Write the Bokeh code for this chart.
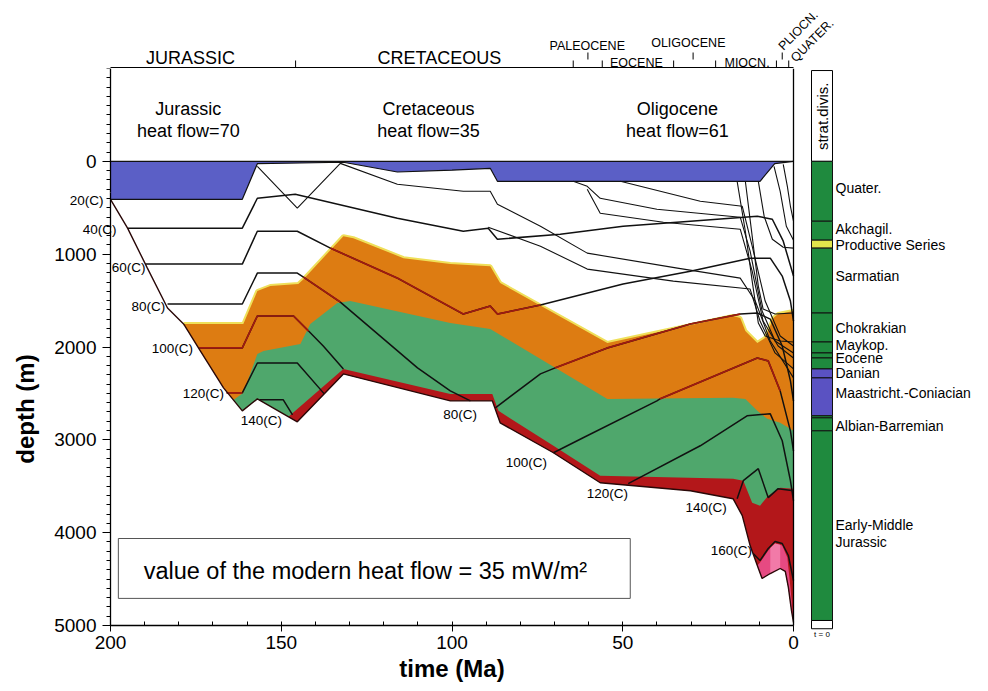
import math
from bokeh.plotting import figure
from bokeh.layouts import column, row
from bokeh.models import Range1d, FixedTicker, LinearAxis
from bokeh.core.properties import value
from bokeh.embed import file_html
from bokeh.resources import INLINE

FONT = "Liberation Sans"

# ---------------- data (time in Ma, depth in m) ----------------
water_t = [200, 161.4, 157.0, 131.8, 116.0, 100.0, 88.8, 86.7, 9.8, 5.5, 0]
water_d = [409, 409, 25, 10, 115, 95, 75, 215, 215, 25, 0]

base_t = [200.0, 195.0, 189.2, 183.3, 178.6, 173.7, 166.9, 161.4, 157.0, 145.3, 131.8, 100.5, 88.2, 85.9,
          70.3, 56.6, 30.2, 17.7, 15.0, 12.7, 10.6, 9.2, 6.8, 3.9, 2.4, 1.5, 0.6, 0.0]
base_d = [409, 720, 1150, 1580, 1752, 2043, 2440, 2688, 2559, 2806, 2290, 2580, 2580, 2817,
          3139, 3462, 3548, 3634, 3816, 4139, 4354, 4494, 4440, 4386, 4418, 4590, 4838, 4967]

orange_top_t = [178.6, 161.1, 157.0, 153.2, 145.0, 143.5, 131.8, 128.9, 114.2, 100.5, 88.8, 85.9, 54.5,
                17.7, 15.6, 14.1, 10.6, 8.3, 5.9, 4.5, 0.0]
orange_top_d = [1752, 1752, 1398, 1344, 1322, 1269, 806, 828, 1043, 1107, 1129, 1311, 1957,
                1666, 1688, 1828, 1957, 1903, 1688, 1645, 1613]

green_top_t = [164.0, 161.1, 157.0, 155.2, 144.4, 141.5, 133.6, 129.8, 100.5, 88.8, 54.5, 17.7, 14.1,
               10.6, 7.7, 3.9, 0.0]
green_top_d = [2570, 2494, 2075, 2043, 1967, 1752, 1527, 1505, 1742, 1806, 2559, 2548, 2559,
               2688, 2774, 2817, 2903]

red_top_t = [147.9, 131.8, 100.5, 88.2, 86.4, 70.3, 56.6, 17.7, 14.7, 12.1, 9.8, 7.4, 3.9, 0.0]
red_top_d = [2750, 2236, 2505, 2505, 2688, 3064, 3386, 3419, 3440, 3677, 3709, 3601, 3515, 3526]

pink_top_t = [10.6, 9.8, 7.4, 5.4, 3.3, 1.8, 0.9, 0.0]
pink_top_d = [4354, 4322, 4193, 4117, 4139, 4268, 4590, 4967]
light_pink_t = [6.8, 5.4, 3.9, 3.9, 6.8]
light_pink_d = [4165, 4117, 4130, 4386, 4440]

# isotherms
iso40_t = [195.0, 161.4, 157.0, 145.9, 116.0, 96.7, 89.4, 86.7, 68.3, 49.9, 30.2, 10.6, 6.2, 3.0, 0.0]
iso40_d = [720, 720, 398, 355, 613, 753, 720, 839, 785, 699, 645, 591, 624, 860, 1236]
iso60_t = [189.8, 161.4, 157.0, 145.3, 135.6, 116.0, 96.7, 88.8, 86.7, 74.1, 49.9, 30.2, 12.7, 6.8, 3.3, 0.9, 0.0]
iso60_d = [1107, 1107, 753, 753, 935, 1258, 1645, 1559, 1645, 1548, 1322, 1183, 1043, 1043, 1236, 1505, 1720]
iso80_t = [183.3, 161.4, 157.0, 145.3, 143.5, 132.7, 110.1, 100.5, 94.6]
iso80_d = [1537, 1537, 1204, 1204, 1247, 1516, 2225, 2473, 2580]
iso80b_t = [87.3, 74.1, 69.8, 54.5, 30.2, 15.6, 10.6, 6.8, 3.3, 0.9, 0.0]
iso80b_d = [2655, 2290, 2225, 2010, 1752, 1645, 1634, 1699, 1989, 2365, 2580]
iso100_t = [174.0, 161.4, 157.0, 146.4, 142.0, 137.7, 131.8]
iso100_d = [2010, 2010, 1666, 1666, 1828, 1989, 2236]
iso100b_t = [70.3, 61.6, 40.0, 39.1, 10.6, 7.4, 3.9, 0.9, 0.0]
iso100b_d = [3139, 2978, 2580, 2559, 2118, 2150, 2473, 2903, 3118]
iso120_t = [166.0, 161.4, 157.0, 145.3, 137.4]
iso120_d = [2494, 2494, 2172, 2172, 2505]
iso120b_t = [48.4, 27.3, 13.6, 6.8, 3.3, 0.9, 0.0]
iso120b_d = [3472, 3064, 2741, 2720, 3010, 3440, 3655]
iso140_t = [156.4, 149.4, 146.7]
iso140_d = [2569, 2569, 2731]
iso140b_t = [16.5, 14.7, 10.3, 7.4, 4.5, 0.0]
iso140b_d = [3634, 3440, 3311, 3623, 3526, 3548]
iso160_t = [11.8, 9.8, 7.4, 5.4, 3.3, 1.5, 0.0]
iso160_d = [4225, 4300, 4171, 4096, 4117, 4246, 4515]

# burial curves of horizons
hz_a_t = [157.0, 145.3, 132.7, 116.0, 96.7, 88.8, 86.7, 74.1, 60.4, 34.0, 15.6, 11.2, 6.8, 0.0]
hz_a_d = [54, 505, 22, 247, 323, 323, 462, 699, 989, 1150, 1258, 1505, 1935, 2333]
hz_b_t = [89.4, 74.1, 60.4, 35.2, 12.7, 9.8, 5.4, 0.0]
hz_b_d = [710, 914, 1161, 1290, 1376, 1720, 2064, 2236]
hz_p1_t = [64.5, 60.4, 56.6, 40.0, 15.6, 12.7, 9.2, 5.4, 0.0]
hz_p1_d = [215, 269, 398, 516, 602, 968, 1613, 1935, 2064]
hz_p2_t = [60.4, 56.6, 38.1, 15.6, 12.1, 8.9, 4.5, 0.0]
hz_p2_d = [301, 559, 656, 731, 1183, 1720, 1989, 2118]
hz_p3_t = [50.7, 27.3, 15.0, 12.1, 8.3, 3.9, 0.0]
hz_p3_d = [215, 430, 484, 914, 1505, 1881, 1989]
hz_m1_t = [16.5, 14.1, 12.1, 10.3, 8.3, 3.9, 0.0]
hz_m1_d = [215, 753, 1290, 1742, 1881, 1935, 1946]
hz_m2_t = [14.1, 12.1, 10.3, 8.9, 5.4, 0.0]
hz_m2_d = [215, 806, 1344, 1591, 1645, 1634]
hz_m3_t = [10.3, 8.6, 6.2, 3.0, 0.0]
hz_m3_d = [215, 591, 839, 925, 935]
hz_pl_t = [5.7, 3.9, 2.1, 0.0]
hz_pl_d = [54, 323, 699, 849]
hz_ak_t = [3.0, 1.8, 0.9, 0.0]
hz_ak_d = [32, 269, 484, 645]

iso_lab_text = ["20(C)", "40(C)", "60(C)", "80(C)", "100(C)", "120(C)", "140(C)",
                "80(C)", "100(C)", "120(C)", "140(C)", "160(C)"]
iso_lab_t = [207.0, 203.2, 194.7, 188.9, 181.9, 172.8, 155.8, 97.6, 78.2, 54.5, 25.6, 18.2]
iso_lab_d = [419, 731, 1140, 1559, 2021, 2505, 2795, 2730, 3247, 3580, 3730, 4193]

hf_period = ["Jurassic", "Cretaceous", "Oligocene"]
hf_value = [70, 35, 61]
hf_t = [177.2, 106.9, 34.0]
modern_heat_flow = 35

# geological time scale (header)
era_names = ["JURASSIC", "CRETACEOUS"]
era_mid_t = [176.6, 103.7]
epoch_names = ["PALEOCENE", "EOCENE", "OLIGOCENE", "MIOCN."]
epoch_mid_t = [60.4, 46.0, 30.8, 13.6]
epoch_row = [45, 62, 42, 62]
young_names = ["PLIOCN.", "QUATER."]
young_t = [-1.4, -5.5]
young_row = [30, 40]
bound_t = [145.8, 64.5, 56.0, 35.1, 22.8, 5.0, 1.4]
mid_tick_t = [60.2, 29.4, 3.3]

# stratigraphic column (present-day depths)
strat_top = [0, 645, 849, 935, 1634, 1946, 2064, 2118, 2236, 2333, 2741, 2763, 2903]
strat_bot = [645, 849, 935, 1634, 1946, 2064, 2118, 2236, 2333, 2741, 2763, 2903, 4946]
strat_lith = ["g", "g", "y", "g", "g", "g", "g", "g", "b", "b", "g", "g", "g"]
strat_names = ["Quater.", "Akchagil.", "Productive Series", "Sarmatian", "Chokrakian", "Maykop.",
               "Eocene", "Danian", "Maastricht.-Coniacian", "Albian-Barremian", "Early-Middle", "Jurassic"]
strat_label_d = [291, 732, 905, 1239, 1799, 1982, 2122, 2284, 2499, 2855, 3921, 4104]

# ---------------- styling / geometry ----------------
W, H = 988, 691
HEAD_H = 68
FRAME_L, FRAME_R = 110, 793
FRAME_B = 625
MAIN_W = 800
T0, T1 = 200, 0
D_TOP, D_BOT = -1000, 5000
D_SPLIT = 340          # where the labelled part of the depth axis begins (centres its title)
px_per_ma = (FRAME_R - FRAME_L) / (T0 - T1)
m_per_px = (D_BOT - D_TOP) / (FRAME_B - HEAD_H)
T_LEFT = T0 + FRAME_L / px_per_ma               # time at the left edge of the canvas
T_RIGHT = T1 - (MAIN_W - FRAME_R) / px_per_ma   # time at the right edge of the main canvas
D_CANVAS_BOT = D_TOP + (H - HEAD_H) * m_per_px  # depth at the bottom edge of the canvas

C_WATER = "#5b5fc6"
C_ORANGE = "#dd7c12"
C_GREEN = "#4fa76c"
C_RED = "#b3171a"
C_PINK = "#e64a82"
C_LPINK = "#f27aa8"
C_YEL = "#efe05a"
C_ISO_RED = "#a01a10"
LITH = {"g": "#1f8a3e", "y": "#e2e64c", "b": "#5a52c2"}

# ---------------- header (time scale) ----------------
hdr = figure(width=W, height=HEAD_H,
             x_range=Range1d(T_LEFT, T1 - (W - FRAME_R) / px_per_ma),
             y_range=Range1d(HEAD_H, 0), x_axis_location=None, y_axis_location=None,
             toolbar_location=None, output_backend="svg", min_border=0,
             outline_line_color=None)
hdr.grid.visible = False
hdr.line([T0, T1], [HEAD_H - 0.7, HEAD_H - 0.7], line_color="black", line_width=1.4)
hdr.segment(x0=bound_t, y0=[HEAD_H] * len(bound_t), x1=bound_t, y1=[HEAD_H - 8] * len(bound_t),
            line_color="black", line_width=1)
hdr.segment(x0=mid_tick_t, y0=[59] * len(mid_tick_t), x1=mid_tick_t, y1=[52] * len(mid_tick_t),
            line_color="black", line_width=1)
hdr.text(x=era_mid_t, y=[57] * 2, text=era_names, text_font=value(FONT), text_font_size="18px",
         text_align="center", text_baseline="middle", text_color="black")
hdr.text(x=epoch_mid_t, y=epoch_row, text=epoch_names, text_font=value(FONT), text_font_size="12.5px",
         text_align="center", text_baseline="middle", text_color="black")
hdr.text(x=young_t, y=young_row, text=young_names, text_font=value(FONT), text_font_size="12.5px",
         text_align="center", text_baseline="middle", text_color="black", angle=math.pi / 4)

# ---------------- main burial history ----------------
p = figure(width=MAIN_W, height=H - HEAD_H, x_range=Range1d(T_LEFT, T_RIGHT),
           y_range=Range1d(D_CANVAS_BOT, D_TOP),
           toolbar_location=None, output_backend="svg", min_border=0,
           x_axis_label="time (Ma)", y_axis_label="depth (m)")
p.grid.visible = False
p.outline_line_color = None

xa = p.xaxis[0]
ya = p.yaxis[0]
xa.ticker = FixedTicker(ticks=[200, 150, 100, 50, 0], minor_ticks=list(range(0, 201, 10)))
xa.fixed_location = D_BOT
xa.bounds = (T1, T0)
ya.ticker = FixedTicker(ticks=[1000, 2000, 3000, 4000, 5000],
                        minor_ticks=list(range(400, 5001, 100)))
ya.fixed_location = T0
ya.bounds = (D_SPLIT, D_BOT)
ya_top = LinearAxis(fixed_location=T0, bounds=(D_TOP, D_SPLIT),
                    ticker=FixedTicker(ticks=[0], minor_ticks=list(range(D_TOP, D_SPLIT, 100))))
p.add_layout(ya_top, "left")
for ax in (xa, ya, ya_top):
    ax.axis_line_color = "black"
    ax.axis_line_width = 1.3
    ax.major_tick_line_color = "black"
    ax.minor_tick_line_color = "black"
    ax.major_label_text_font = FONT
    ax.major_label_text_font_size = "19px"
    ax.major_label_text_color = "black"
    ax.axis_label_text_font = FONT
    ax.axis_label_text_font_size = "24px"
    ax.axis_label_text_font_style = "bold"
    ax.axis_label_text_color = "black"
xa.major_tick_out = 6
xa.major_tick_in = 0
xa.minor_tick_in = 4
xa.minor_tick_out = 0
xa.major_label_standoff = 4
xa.axis_label_standoff = 3
for ax in (ya, ya_top):
    ax.major_tick_out = 8
    ax.major_tick_in = 0
    ax.minor_tick_out = 4
    ax.minor_tick_in = 0
    ax.major_label_standoff = 6
ya.axis_label_standoff = 12

# right border of the frame (t = 0)
right_edge = LinearAxis(fixed_location=T1, bounds=(D_TOP, D_BOT), ticker=FixedTicker(ticks=[]),
                        axis_line_color="black", axis_line_width=1.3, major_tick_line_color=None,
                        minor_tick_line_color=None, major_label_text_font_size="0px")
p.add_layout(right_edge, "right")


def zone(top_t, top_d):
    t0 = top_t[0]
    bt = [t for t in base_t if t < t0]
    bd = [d for t, d in zip(base_t, base_d) if t < t0]
    return top_t + bt[::-1], top_d + bd[::-1]


# water column
p.varea(x=water_t, y1=[0] * len(water_t), y2=water_d, fill_color=C_WATER)

# maturity zones
p.line(orange_top_t, orange_top_d, line_color=C_YEL, line_width=4)
for top_t, top_d, col in ((orange_top_t, orange_top_d, C_ORANGE), (green_top_t, green_top_d, C_GREEN),
                          (red_top_t, red_top_d, C_RED), (pink_top_t, pink_top_d, C_PINK)):
    xs, ys = zone(top_t, top_d)
    p.patch(xs, ys, fill_color=col, line_color=None)
p.patch(light_pink_t, light_pink_d, fill_color=C_LPINK, line_color=None)

# horizons
for ht, hd in ((hz_a_t, hz_a_d), (hz_b_t, hz_b_d), (hz_p1_t, hz_p1_d), (hz_p2_t, hz_p2_d),
               (hz_p3_t, hz_p3_d), (hz_m1_t, hz_m1_d), (hz_m2_t, hz_m2_d), (hz_m3_t, hz_m3_d),
               (hz_pl_t, hz_pl_d), (hz_ak_t, hz_ak_d)):
    p.line(ht, hd, line_color="#111111", line_width=1.1)

# isotherms (segments inside the orange zone are drawn dark red)
for it, idd, red in ((iso40_t, iso40_d, None), (iso60_t, iso60_d, (4, 9)), (iso80_t, iso80_d, (4, 5)),
                     (iso80b_t, iso80b_d, (2, 5)), (iso100_t, iso100_d, (0, 4)),
                     (iso100b_t, iso100b_d, (3, 6)), (iso120_t, iso120_d, (0, 1)),
                     (iso120b_t, iso120b_d, None), (iso140_t, iso140_d, None),
                     (iso140b_t, iso140b_d, None), (iso160_t, iso160_d, None)):
    p.line(it, idd, line_color="#111111", line_width=1.5)
    if red:
        i, j = red
        p.line(it[i:j + 1], idd[i:j + 1], line_color=C_ISO_RED, line_width=1.7)

# base of section and sea floor
p.line(base_t, base_d, line_color="#2a0808", line_width=1.4)
p.line(water_t, water_d, line_color="#111111", line_width=1.2)
p.line([T0, T1], [0, 0], line_color="#111111", line_width=1.2)

# heat-flow annotations
p.text(x=hf_t, y=[-559] * 3, text=hf_period, text_font=value(FONT), text_font_size="18px",
       text_align="center", text_baseline="middle", text_color="black")
p.text(x=hf_t, y=[-322] * 3, text=["heat flow=%d" % v for v in hf_value], text_font=value(FONT),
       text_font_size="18px", text_align="center", text_baseline="middle", text_color="black")

p.quad(left=[197.7], right=[47.8], top=[4063], bottom=[4708], fill_color="white",
       line_color="#555555", line_width=1)
p.text(x=[190.3], y=[4410], text=["value of the modern heat flow = %d mW/m\u00b2" % modern_heat_flow],
       text_font=value(FONT), text_font_size="23.5px", text_align="left", text_baseline="middle",
       text_color="black")

p.text(x=iso_lab_t, y=iso_lab_d, text=iso_lab_text, text_font=value(FONT), text_font_size="13.5px",
       text_align="center", text_baseline="middle", text_color="black")

# ---------------- stratigraphic column ----------------
SW = W - MAIN_W
st = figure(width=SW, height=H - HEAD_H, x_range=Range1d(0, SW), y_range=Range1d(D_CANVAS_BOT, D_TOP),
            x_axis_location=None, y_axis_location=None, toolbar_location=None,
            output_backend="svg", min_border=0, outline_line_color=None)
st.grid.visible = False
COL_L, COL_R = 811 - MAIN_W, 832 - MAIN_W
st.quad(left=[COL_L], right=[COL_R], top=[-978], bottom=[0], fill_color="white",
        line_color="black", line_width=1)
st.text(x=[(COL_L + COL_R) / 2], y=[-485], text=["strat.divis."], angle=math.pi / 2,
        text_font=value(FONT), text_font_size="15px", text_align="center", text_baseline="middle",
        text_color="black")
st.quad(left=[COL_L] * len(strat_top), right=[COL_R] * len(strat_top), top=strat_top, bottom=strat_bot,
        fill_color=[LITH[k] for k in strat_lith], line_color="#111111", line_width=1)
st.quad(left=[COL_L], right=[COL_R], top=[strat_bot[-1]], bottom=[5035], fill_color="white",
        line_color="black", line_width=1)
st.text(x=[(COL_L + COL_R) / 2], y=[5100], text=["t = 0"], text_font=value(FONT), text_font_size="8px",
        text_align="center", text_baseline="middle", text_color="black")
st.text(x=[COL_R + 3] * len(strat_names), y=strat_label_d, text=strat_names, text_font=value(FONT),
        text_font_size="14px", text_align="left", text_baseline="middle", text_color="black")

layout = column(hdr, row(p, st))
open("out.html", "w").write(file_html(layout, INLINE))
